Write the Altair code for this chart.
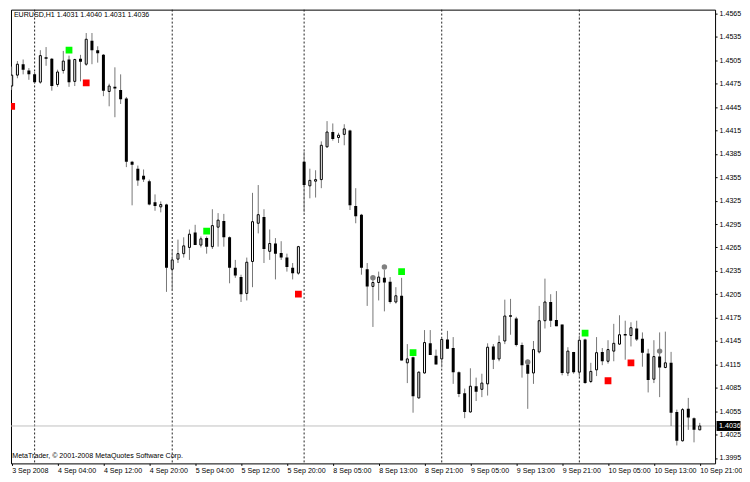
import altair as alt
import pandas as pd

# ---- data (EURUSD H1, bars 0..120) ----
opens = [
    1.4472, 1.4486, 1.4500, 1.4492, 1.4487, 1.4477, 1.4509, 1.4507, 1.4474, 1.4492,
    1.4506, 1.4478, 1.4507, 1.4500, 1.4530, 1.4518, 1.4512, 1.4465, 1.4471, 1.4467,
    1.4456, 1.4375, 1.4366, 1.4357, 1.4350, 1.4323, 1.4317, 1.4320, 1.4237, 1.4250,
    1.4257, 1.4265, 1.4284, 1.4268, 1.4277, 1.4266, 1.4291, 1.4299, 1.4278, 1.4239,
    1.4227, 1.4206, 1.4247, 1.4296, 1.4304, 1.4260, 1.4270, 1.4258, 1.4252, 1.4239,
    1.4232, 1.4375, 1.4344, 1.4350, 1.4352, 1.4394, 1.4413, 1.4406, 1.4410, 1.4415,
    1.4318, 1.4307, 1.4237, 1.4215, 1.4220, 1.4226, 1.4221, 1.4195, 1.4203, 1.4117,
    1.4124, 1.4072, 1.4104, 1.4142, 1.4126, 1.4122, 1.4147, 1.4136, 1.4105, 1.4078,
    1.4054, 1.4087, 1.4083, 1.4090, 1.4138, 1.4122, 1.4145, 1.4178, 1.4174, 1.4140,
    1.4115, 1.4104, 1.4131, 1.4171, 1.4195, 1.4172, 1.4166, 1.4104, 1.4131, 1.4105,
    1.4147, 1.4093, 1.4108, 1.4131, 1.4119, 1.4132, 1.4141, 1.4154, 1.4152, 1.4161,
    1.4148, 1.4129, 1.4096, 1.4125, 1.4111, 1.4117, 1.4054, 1.4017, 1.4058, 1.4046,
    1.4031]
highs = [
    1.4497, 1.4504, 1.4506, 1.4495, 1.4490, 1.4518, 1.4522, 1.4508, 1.4493, 1.4517,
    1.4511, 1.4507, 1.4512, 1.4540, 1.4540, 1.4523, 1.4513, 1.4475, 1.4496, 1.4487,
    1.4458, 1.4376, 1.4370, 1.4365, 1.4352, 1.4333, 1.4324, 1.4321, 1.4261, 1.4275,
    1.4278, 1.4288, 1.4294, 1.4279, 1.4279, 1.4314, 1.4309, 1.4308, 1.4279, 1.4249,
    1.4230, 1.4252, 1.4335, 1.4345, 1.4314, 1.4288, 1.4277, 1.4273, 1.4257, 1.4245,
    1.4267, 1.4388, 1.4366, 1.4364, 1.4401, 1.4427, 1.4424, 1.4412, 1.4423, 1.4416,
    1.4341, 1.4308, 1.4245, 1.4224, 1.4234, 1.4236, 1.4227, 1.4214, 1.4226, 1.4141,
    1.4125, 1.4106, 1.4159, 1.4159, 1.4134, 1.4148, 1.4158, 1.4150, 1.4106, 1.4084,
    1.4110, 1.4098, 1.4103, 1.4142, 1.4141, 1.4152, 1.4198, 1.4199, 1.4176, 1.4143,
    1.4121, 1.4145, 1.4190, 1.4225, 1.4205, 1.4209, 1.4166, 1.4137, 1.4131, 1.4152,
    1.4148, 1.4117, 1.4150, 1.4136, 1.4146, 1.4167, 1.4178, 1.4171, 1.4169, 1.4171,
    1.4156, 1.4135, 1.4146, 1.4156, 1.4157, 1.4131, 1.4057, 1.4059, 1.4072, 1.4047,
    1.4040]
lows = [
    1.4467, 1.4482, 1.4487, 1.4480, 1.4475, 1.4475, 1.4498, 1.4466, 1.4471, 1.4488,
    1.4471, 1.4472, 1.4478, 1.4498, 1.4500, 1.4502, 1.4459, 1.4446, 1.4432, 1.4449,
    1.4368, 1.4319, 1.4344, 1.4349, 1.4319, 1.4312, 1.4310, 1.4208, 1.4209, 1.4245,
    1.4252, 1.4249, 1.4268, 1.4265, 1.4257, 1.4263, 1.4266, 1.4266, 1.4219, 1.4226,
    1.4195, 1.4197, 1.4214, 1.4283, 1.4245, 1.4249, 1.4224, 1.4249, 1.4234, 1.4224,
    1.4230, 1.4310, 1.4328, 1.4329, 1.4341, 1.4393, 1.4402, 1.4399, 1.4396, 1.4313,
    1.4296, 1.4230, 1.4190, 1.4163, 1.4197, 1.4183, 1.4193, 1.4193, 1.4120, 1.4091,
    1.4053, 1.4071, 1.4103, 1.4127, 1.4115, 1.4111, 1.4135, 1.4090, 1.4073, 1.4046,
    1.4053, 1.4068, 1.4073, 1.4075, 1.4109, 1.4119, 1.4141, 1.4153, 1.4138, 1.4098,
    1.4058, 1.4090, 1.4129, 1.4161, 1.4163, 1.4164, 1.4101, 1.4100, 1.4103, 1.4099,
    1.4090, 1.4091, 1.4100, 1.4114, 1.4116, 1.4119, 1.4140, 1.4121, 1.4138, 1.4145,
    1.4112, 1.4079, 1.4091, 1.4073, 1.4110, 1.4036, 1.4011, 1.4016, 1.4031, 1.4015,
    1.4031]
closes = [
    1.4486, 1.4500, 1.4493, 1.4487, 1.4477, 1.4511, 1.4507, 1.4472, 1.4490, 1.4504,
    1.4477, 1.4506, 1.4503, 1.4532, 1.4518, 1.4514, 1.4466, 1.4472, 1.4469, 1.4455,
    1.4375, 1.4371, 1.4351, 1.4352, 1.4320, 1.4318, 1.4320, 1.4239, 1.4249, 1.4257,
    1.4267, 1.4282, 1.4268, 1.4276, 1.4266, 1.4293, 1.4300, 1.4278, 1.4239, 1.4229,
    1.4205, 1.4246, 1.4298, 1.4307, 1.4263, 1.4270, 1.4257, 1.4252, 1.4240, 1.4232,
    1.4266, 1.4345, 1.4351, 1.4352, 1.4396, 1.4413, 1.4404, 1.4409, 1.4417, 1.4319,
    1.4305, 1.4239, 1.4215, 1.4220, 1.4227, 1.4220, 1.4195, 1.4203, 1.4120, 1.4122,
    1.4074, 1.4105, 1.4143, 1.4127, 1.4115, 1.4147, 1.4135, 1.4105, 1.4077, 1.4054,
    1.4087, 1.4080, 1.4091, 1.4137, 1.4121, 1.4143, 1.4177, 1.4176, 1.4140, 1.4114,
    1.4103, 1.4134, 1.4171, 1.4195, 1.4171, 1.4164, 1.4104, 1.4132, 1.4105, 1.4146,
    1.4091, 1.4106, 1.4130, 1.4119, 1.4134, 1.4142, 1.4153, 1.4152, 1.4162, 1.4147,
    1.4130, 1.4095, 1.4125, 1.4111, 1.4117, 1.4053, 1.4017, 1.4057, 1.4047, 1.4031,
    1.4036]

day_separator_bars = [4, 28, 51, 75, 99]
x_tick_bars = [0, 8, 16, 24, 32, 40, 48, 56, 64, 72, 80, 88, 96, 104, 112, 120]
x_tick_labels = ["3 Sep 2008", "4 Sep 04:00", "4 Sep 12:00", "4 Sep 20:00",
                 "5 Sep 04:00", "5 Sep 12:00", "5 Sep 20:00", "8 Sep 05:00",
                 "8 Sep 13:00", "8 Sep 21:00", "9 Sep 05:00", "9 Sep 13:00",
                 "9 Sep 21:00", "10 Sep 05:00", "10 Sep 13:00", "10 Sep 21:00"]
y_ticks = [1.4565, 1.4535, 1.4505, 1.4475, 1.4445, 1.4415, 1.4385, 1.4355,
           1.4325, 1.4295, 1.4265, 1.4235, 1.4205, 1.4175, 1.4145, 1.4115,
           1.4085, 1.4055, 1.4025, 1.3995]
current_price = [1.4036]

signal_bars = [0, 10, 13, 34, 50, 68, 70, 100, 104, 108]
signal_prices = [1.4446, 1.4518, 1.4476, 1.4286, 1.4205, 1.4234, 1.4130, 1.4155, 1.4094, 1.4117]
signal_types = ["sell", "buy", "sell", "buy", "sell", "buy", "buy", "buy", "sell", "sell"]

dot_bars = [63, 65, 90, 113]
dot_prices = [1.4226, 1.4240, 1.4118, 1.4132]

title_text = "EURUSD,H1  1.4031 1.4040 1.4031 1.4036"
copyright_text = "MetaTrader, \u00a9 2001-2008 MetaQuotes Software Corp."

# ---- tables ----
n = len(opens)
bars = pd.DataFrame({"bar": list(range(n)), "open": opens, "high": highs,
                     "low": lows, "close": closes})
bull = bars[bars["close"] > bars["open"]]
bear = bars[bars["close"] <= bars["open"]]
seps = pd.DataFrame({"bar": day_separator_bars})
sig = pd.DataFrame({"bar": signal_bars, "price": signal_prices, "type": signal_types})
dots = pd.DataFrame({"bar": dot_bars, "price": dot_prices})
cur = pd.DataFrame({"price": current_price, "label": ["%.4f" % p for p in current_price]})
txt = pd.DataFrame({"t": [title_text, copyright_text]})

FONT = "Liberation Sans"
FS = 7.1
W, H = 706, 455

label_array = "[" + ",".join("'%s'" % s for s in x_tick_labels) + "]"
xscale = alt.Scale(domain=[-0.12, 122.67], nice=False, zero=False, padding=0)
yscale = alt.Scale(domain=[1.3988, 1.457], nice=False, zero=False, padding=0)
xaxis = alt.Axis(values=x_tick_bars, labelExpr=label_array + "[round(datum.value/8)]",
                 orient="bottom", title=None, grid=False, domain=False,
                 tickSize=2, labelPadding=1, labelAlign="left", labelFlush=False,
                 labelOverlap=False, labelBound=False)
yaxis = alt.Axis(values=y_ticks, format=".4f", orient="right", title=None, grid=False,
                 domain=False, tickSize=2, labelPadding=2, labelOverlap=False,
                 labelFlush=False, labelBound=False)

X = lambda f: alt.X(f, type="quantitative", scale=xscale, axis=xaxis)
Y = lambda f: alt.Y(f, type="quantitative", scale=yscale, axis=yaxis)

separators = alt.Chart(seps).mark_rule(color="#222222", strokeWidth=1,
                                       strokeDash=[2, 2]).encode(x=X("bar"))

price_line = alt.Chart(cur).mark_rule(color="#C0C0C0", strokeWidth=1).encode(y=Y("price"))

wicks = alt.Chart(bars).mark_rule(color="#777777", strokeWidth=1, clip=True).encode(
    x=X("bar"), y=Y("low"), y2="high")

bear_bodies = alt.Chart(bear).mark_bar(size=3, color="black", clip=True).encode(
    x=X("bar"), y=Y("open"), y2="close")

bull_bodies = alt.Chart(bull).mark_bar(size=2, fill="white", stroke="black",
                                       strokeWidth=1, clip=True).encode(
    x=X("bar"), y=Y("open"), y2="close")

squares = alt.Chart(sig).mark_square(size=46, opacity=1, clip=True).encode(
    x=X("bar"), y=Y("price"),
    color=alt.Color("type:N", scale=alt.Scale(domain=["buy", "sell"],
                                              range=["#00FF00", "#FF0000"]), legend=None))

circles = alt.Chart(dots).mark_circle(size=30, color="#808080", opacity=1).encode(
    x=X("bar"), y=Y("price"))

price_box = alt.Chart(cur).mark_tick(orient="horizontal", color="black", size=24,
                                     thickness=10, opacity=1).encode(
    y=Y("price"), x=alt.value(719.5))

price_text = alt.Chart(cur).mark_text(align="left", baseline="middle", color="white",
                                      font=FONT, fontSize=FS).encode(
    y=Y("price"), x=alt.value(710), text="label:N")

title_mark = alt.Chart(txt.iloc[[0]]).mark_text(align="left", baseline="middle",
                                                font=FONT, fontSize=FS, color="black").encode(
    x=alt.value(2.9), y=alt.value(5.8), text="t:N")

copyright_mark = alt.Chart(txt.iloc[[1]]).mark_text(align="left", baseline="middle",
                                                    font=FONT, fontSize=FS, color="black").encode(
    x=alt.value(1.3), y=alt.value(447.6), text="t:N")

chart = alt.layer(
    separators, price_line, wicks, bear_bodies, bull_bodies, squares, circles,
    price_box, price_text, title_mark, copyright_mark
).properties(
    width=W, height=H,
    padding={"left": 2, "top": 0, "right": 0, "bottom": 0},
    background="white",
).configure_view(
    stroke="black", strokeWidth=1
).configure_axis(
    labelFont=FONT, labelFontSize=FS, labelColor="black", tickColor="black"
)

chart.save("out.html", embed_options={"renderer": "svg", "actions": False})
